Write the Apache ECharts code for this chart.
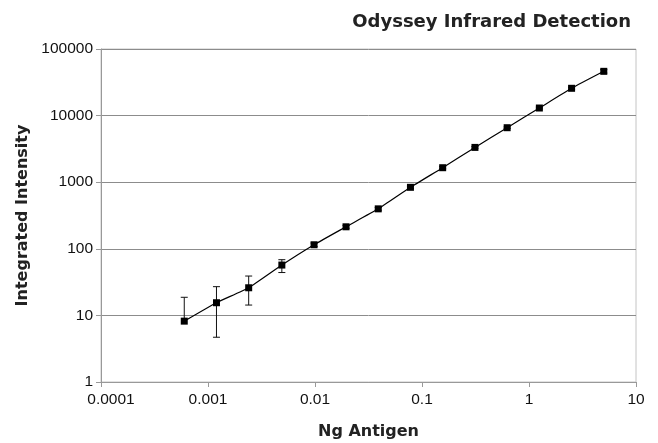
<!DOCTYPE html>
<html>
<head>
<meta charset="utf-8">
<script src="https://cdn.jsdelivr.net/npm/echarts@6/dist/echarts.min.js"></script>
<style>
  html, body { margin: 0; padding: 0; background: #fff; }
  #chart { width: 658px; height: 443px; }
</style>
</head>
<body>
<div id="chart"></div>
<script>
const antigen = [0.0006, 0.0012, 0.0024, 0.0049, 0.0098, 0.0195, 0.039, 0.078, 0.156, 0.3125, 0.625, 1.25, 2.5, 5];
const intensity = [8.2, 15.5, 26, 57, 115, 214, 398, 838, 1650, 3330, 6580, 13000, 25700, 46200];
const errLow = [null, 4.7, 14.3, 44, 108, 203, 380, 805, 1590, 3230, 6400, 12600, 24800, 43500];
const errHigh = [18.7, 27, 39, 68.6, 122, 225, 416, 870, 1710, 3430, 6760, 13400, 26600, 49000];

const xTicks = ['0.0001', '0.001', '0.01', '0.1', '1', '10'];
const yTicks = ['1', '10', '100', '1000', '10000', '100000'];

const points = antigen.map((x, i) => [x, intensity[i]]);
const bars = antigen.map((x, i) => [x, errLow[i], errHigh[i]]);

const fmt = (v) => String(Number(v.toPrecision(6)));

const renderErr = (params, api) => {
    const x = api.value(0);
    const lo = api.value(1);
    const hi = api.value(2);
    const mid = api.coord([x, intensity[params.dataIndex]]);
    const top = api.coord([x, hi]);
    const bot = lo ? api.coord([x, lo]) : mid;
    const half = 3.5;
    const style = { stroke: '#111', lineWidth: 1 };
    const children = [
        { type: 'line', shape: { x1: top[0], y1: top[1], x2: bot[0], y2: bot[1] }, style },
        { type: 'line', shape: { x1: top[0] - half, y1: top[1], x2: top[0] + half, y2: top[1] }, style }
    ];
    if (lo) {
        children.push({ type: 'line', shape: { x1: bot[0] - half, y1: bot[1], x2: bot[0] + half, y2: bot[1] }, style });
    }
    return { type: 'group', children };
};

const nameFont = { fontFamily: 'DejaVu Sans', fontWeight: 'bold', fontSize: 16, color: '#222' };

const chart = echarts.init(document.getElementById('chart'));
chart.setOption({
    animation: false,
    backgroundColor: '#fff',
    title: {
        text: 'Odyssey Infrared Detection',
        right: 22,
        top: 8,
        textStyle: { fontFamily: 'DejaVu Sans', fontWeight: 'bold', fontSize: 18, color: '#222' }
    },
    grid: {
        left: 101, right: 22, top: 49, bottom: 61,
        outerBoundsMode: 'none',
        containLabel: false,
        show: true, borderColor: '#c4c4c4', borderWidth: 1
    },
    xAxis: {
        type: 'log',
        logBase: 10,
        min: 0.0001,
        max: 10,
        splitNumber: 5,
        name: 'Ng Antigen',
        nameLocation: 'middle',
        nameGap: 42,
        nameTextStyle: nameFont,
        axisLine: { lineStyle: { color: '#999' } },
        axisTick: { show: true, length: 5, lineStyle: { color: '#999' } },
        splitLine: { show: false },
        axisLabel: {
            fontFamily: 'Liberation Sans', fontSize: 15.5, color: '#111', margin: 10,
            rich: { first: { padding: [0, 0, 0, 20], fontFamily: 'Liberation Sans', fontSize: 15.5, color: '#111' } },
            formatter: (v) => {
                const s = fmt(v);
                if (s === xTicks[0]) return '{first|' + s + '}';
                return xTicks.includes(s) ? s : '';
            }
        }
    },
    yAxis: {
        type: 'log',
        logBase: 10,
        min: 1,
        max: 100000,
        splitNumber: 5,
        name: 'Integrated Intensity',
        nameLocation: 'middle',
        nameGap: 66,
        nameTextStyle: nameFont,
        axisLine: { show: true, lineStyle: { color: '#999' } },
        axisTick: { show: true, length: 5, lineStyle: { color: '#999' } },
        splitLine: { show: true, lineStyle: { color: '#8c8c8c', width: 1 } },
        axisLabel: {
            fontFamily: 'Liberation Sans', fontSize: 15.5, color: '#111', margin: 8,
            formatter: (v) => {
                const s = fmt(v);
                return yTicks.includes(s) ? s : '';
            }
        }
    },
    series: [
        {
            type: 'custom',
            renderItem: renderErr,
            data: bars,
            encode: { x: 0, y: [1, 2] },
            z: 3
        },
        {
            type: 'line',
            data: points,
            smooth: 0.15,
            symbol: 'rect',
            symbolSize: 7,
            itemStyle: { color: '#000' },
            lineStyle: { color: '#000', width: 1.2 },
            z: 4
        }
    ]
});
</script>
</body>
</html>
